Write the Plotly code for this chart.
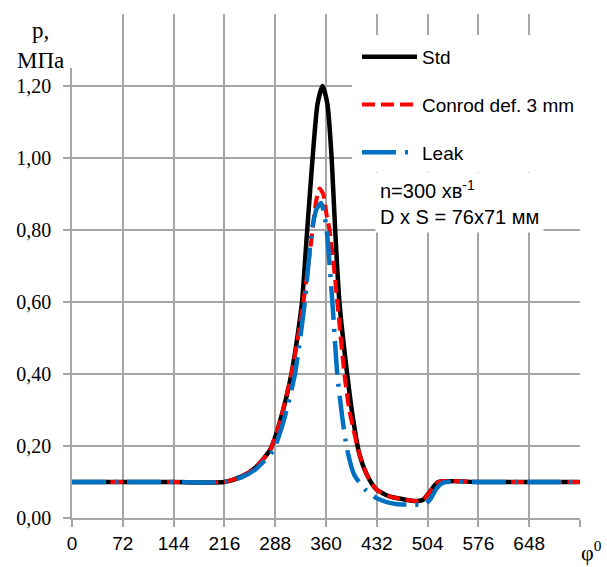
import plotly.graph_objects as go

# --- data ---
phi_std = [0, 72, 144, 216, 240, 260, 281, 295, 311, 320, 326, 333, 341, 348, 355, 362, 368, 373, 379,
           390, 398, 407, 418, 431, 450, 470, 487, 497, 508, 519, 576, 648, 720]
p_std = [0.10, 0.10, 0.10, 0.10, 0.115, 0.14, 0.19, 0.27, 0.40, 0.51, 0.60, 0.79, 1.00, 1.15, 1.20, 1.15,
         1.00, 0.80, 0.60, 0.40, 0.28, 0.18, 0.12, 0.08, 0.06, 0.052, 0.047, 0.05, 0.075, 0.10, 0.10, 0.10, 0.10]

phi_conrod = [0, 72, 144, 216, 240, 260, 281, 295, 311, 320, 328, 336, 341, 346, 351, 356, 361, 365, 370,
              376, 386, 393, 407, 418, 431, 450, 470, 487, 497, 508, 519, 576, 648, 720]
p_conrod = [0.10, 0.10, 0.10, 0.10, 0.115, 0.14, 0.19, 0.27, 0.40, 0.50, 0.60, 0.72, 0.80, 0.88, 0.915, 0.90,
            0.84, 0.80, 0.72, 0.60, 0.40, 0.30, 0.18, 0.12, 0.08, 0.06, 0.052, 0.047, 0.05, 0.075, 0.10, 0.10, 0.10, 0.10]

phi_leak = [0, 72, 144, 216, 240, 260, 285, 300, 316, 330, 340, 347, 353, 358, 362, 369, 376, 383, 390,
            400, 415, 431, 445, 459, 480, 501, 508, 516, 523, 530, 576, 648, 720]
p_leak = [0.10, 0.10, 0.10, 0.10, 0.113, 0.135, 0.187, 0.27, 0.40, 0.60, 0.80, 0.86, 0.875, 0.84, 0.78,
          0.60, 0.40, 0.28, 0.19, 0.12, 0.08, 0.056, 0.045, 0.039, 0.037, 0.039, 0.053, 0.08, 0.095, 0.10,
          0.10, 0.10, 0.10]

x_ticks = [0, 72, 144, 216, 288, 360, 432, 504, 576, 648, 720]
x_ticktext = ["0", "72", "144", "216", "288", "360", "432", "504", "576", "648", ""]
y_ticks = [0.0, 0.2, 0.4, 0.6, 0.8, 1.0, 1.2, 1.4]
y_ticktext = ["0,00", "0,20", "0,40", "0,60", "0,80", "1,00", "1,20", ""]

SANS = "Liberation Sans, Arial"
SERIF = "Liberation Serif, Times New Roman, serif"
GRID = "#a6a6a6"

fig = go.Figure()
fig.add_trace(go.Scatter(x=phi_std, y=p_std, mode="lines", name="Std", legendgroup="a",
                         line=dict(color="black", width=4.5, shape="spline", smoothing=0.6)))
fig.add_trace(go.Scatter(x=phi_conrod, y=p_conrod, mode="lines", name="Conrod def. 3 mm", legendgroup="b",
                         line=dict(color="#ff0000", width=4, dash="13px,6px", shape="spline", smoothing=0.6)))
fig.add_trace(go.Scatter(x=phi_leak, y=p_leak, mode="lines", name="Leak", legendgroup="c",
                         line=dict(color="#0070c0", width=4.5, dash="34px,9px,3px,9px", shape="spline",
                                   smoothing=0.6)))

fig.update_layout(
    width=607, height=567,
    margin=dict(l=72, r=27, t=14, b=49),
    paper_bgcolor="white", plot_bgcolor="white",
    showlegend=True,
    legend=dict(x=(357 - 72) / 508, y=(518 - 38) / 504, xanchor="left", yanchor="top", bgcolor="white",
                font=dict(family=SANS, size=19, color="black"), itemwidth=55,
                tracegroupgap=20, traceorder="grouped"),
    xaxis=dict(range=[0, 720], tickvals=x_ticks, ticktext=x_ticktext, showgrid=True, gridcolor=GRID,
               gridwidth=1.5, zeroline=False, showline=True, linecolor=GRID, linewidth=1.5,
               ticks="outside", ticklen=7, tickcolor=GRID, tickwidth=1.5,
               tickfont=dict(family=SANS, size=19, color="black")),
    yaxis=dict(range=[0, 1.4], tickvals=y_ticks, ticktext=y_ticktext, showgrid=True, gridcolor=GRID,
               gridwidth=1.5, zeroline=False, showline=True, linecolor=GRID, linewidth=1.5,
               ticks="outside", ticklen=7, tickcolor=GRID, tickwidth=1.5, ticklabelstandoff=8,
               tickfont=dict(family=SERIF, size=20, color="black")),
)

# white box hiding the top of the y axis (behind the axis title)
fig.add_shape(type="rect", xref="paper", yref="paper", x0=-0.2, x1=(77 - 72) / 508,
              y0=(518 - 68) / 504, y1=1.1, fillcolor="white", line=dict(width=0), layer="above")
# white background behind the legend area
fig.add_shape(type="rect", xref="paper", yref="paper", x0=(352 - 72) / 508, x1=1.05,
              y0=(518 - 172) / 504, y1=(518 - 35) / 504, fillcolor="white", line=dict(width=0),
              layer="above")
fig.add_annotation(xref="paper", yref="paper", x=(40 - 72) / 508, y=(518 - 45) / 504,
                   text="p,<br>МПа", showarrow=False, xanchor="center", yanchor="middle",
                   font=dict(family=SERIF, size=23, color="black"))
fig.add_annotation(xref="paper", yref="paper", x=(375 - 72) / 508, y=(518 - 172) / 504,
                   text="n=300 хв<sup>-1</sup><br>D x S = 76x71 мм", showarrow=False,
                   xanchor="left", yanchor="top", align="left", bgcolor="white", borderpad=4,
                   font=dict(family=SANS, size=20, color="black"))
fig.add_annotation(xref="paper", yref="paper", x=(604 - 72) / 508, y=(518 - 551) / 504,
                   text="φ<sup>0</sup>", showarrow=False, xanchor="right", yanchor="middle",
                   font=dict(family=SERIF, size=22, color="black"))

fig.write_html("out.html")
